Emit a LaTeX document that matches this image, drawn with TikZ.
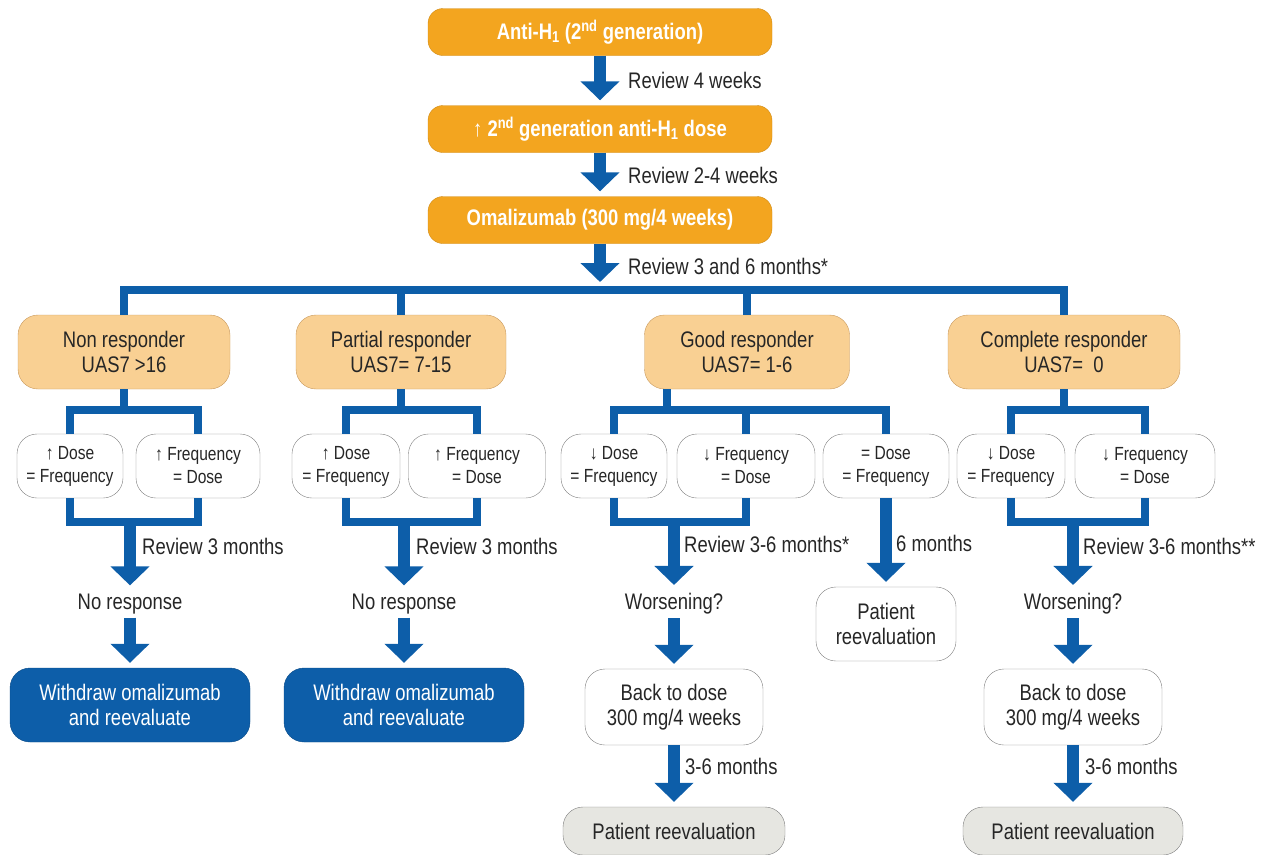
\documentclass[tikz,border=0pt]{standalone}
\usepackage{fontspec}
\setmainfont[FakeStretch=0.82]{Liberation Sans}
\usepackage{tikz}
\usetikzlibrary{calc, positioning, arrows.meta}
\definecolor{hblue}{HTML}{0D5EA9}
\definecolor{horange}{HTML}{F3A51F}
\definecolor{horangeline}{HTML}{D08A14}
\definecolor{hpeach}{HTML}{F9D093}
\definecolor{hpeachline}{HTML}{C99A5E}
\definecolor{hgrey}{HTML}{E6E6E1}

\begin{document}
\begin{tikzpicture}[x=1pt, y=-1pt, every node/.style={align=center, text=black!85, font=\fontsize{22.5}{25}\selectfont}]
\tikzstyle{top box}=[draw=horangeline, fill=horange, rounded corners=15pt, minimum width=344pt, minimum height=47pt, text=white, font=\bfseries\fontsize{22.5}{25}\selectfont]
\tikzstyle{resp box}=[draw=hpeachline, fill=hpeach, rounded corners=20pt, minimum height=74pt]
\tikzstyle{choice}=[draw=gray, fill=white, rounded corners=20pt, minimum height=64pt, inner sep=2pt, font=\fontsize{19}{23}\selectfont]
\tikzstyle{stop box}=[draw=hblue!80!black, fill=hblue, rounded corners=20pt, minimum width=240pt, minimum height=74pt, text=white]
\tikzstyle{back box}=[draw=gray, fill=white, rounded corners=20pt, minimum width=178pt, minimum height=76pt]
\tikzstyle{eval box}=[draw=gray, fill=hgrey, rounded corners=20pt, minimum height=48pt]
\tikzstyle{link}=[draw=hblue, line width=7.5pt]
\tikzstyle{flow}=[draw=hblue, line width=12pt, -{Triangle[width=38pt, length=19pt]}, shorten >=5pt]
\tikzstyle{note}=[anchor=west, inner sep=0pt]

\useasboundingbox (0,0) rectangle (1281,854);

\node[top box] (anti) at (600,32) {Anti-H\textsubscript{1} (2\textsuperscript{nd} generation)};
\node[top box] (updose) at (600,129) {↑ 2\textsuperscript{nd} generation anti-H\textsubscript{1} dose};
\node[top box] (omal) at (600,220) {Omalizumab (300 mg/4 weeks)};

\node[resp box, minimum width=212pt] (nonresp) at (124,352) {Non responder\\UAS7 >16};
\node[resp box, minimum width=210pt] (partial) at (401,352) {Partial responder\\UAS7= 7-15};
\node[resp box, minimum width=205pt] (goodresp) at (747,352) {Good responder\\UAS7= 1-6};
\node[resp box, minimum width=232pt] (complete) at (1064,352) {Complete responder\\UAS7=\ \ 0};

\node[choice, minimum width=106pt] (nrD) at (70,466) {\textbf{↑} Dose\\= Frequency};
\node[choice, minimum width=124pt] (nrF) at (198,466) {\textbf{↑} Frequency\\= Dose};
\node[choice, minimum width=108pt] (ptD) at (346,466) {\textbf{↑} Dose\\= Frequency};
\node[choice, minimum width=137pt] (ptF) at (477,466) {\textbf{↑} Frequency\\= Dose};
\node[choice, minimum width=106pt] (gdD) at (614,466) {\textbf{↓} Dose\\= Frequency};
\node[choice, minimum width=138pt] (gdF) at (746,466) {\textbf{↓} Frequency\\= Dose};
\node[choice, minimum width=126pt] (gdE) at (886,466) {= Dose\\= Frequency};
\node[choice, minimum width=108pt] (cpD) at (1011,466) {\textbf{↓} Dose\\= Frequency};
\node[choice, minimum width=140pt] (cpF) at (1145,466) {\textbf{↓} Frequency\\= Dose};

\coordinate (bus) at (600,290);
\coordinate (nrtop) at (124,410);
\coordinate (nrbot) at (130,522);
\coordinate (pttop) at (401,410);
\coordinate (ptbot) at (404,522);
\coordinate (gdtop) at (667,410);
\coordinate (gdbot) at (674,522);
\coordinate (cptop) at (1064,410);
\coordinate (cpbot) at (1073,522);

\node (nrno) at (130,604) {No response};
\node (ptno) at (404,604) {No response};
\node (gdworse) at (674,604) {Worsening?};
\node (cpworse) at (1073,604) {Worsening?};

\node[stop box] (nrstop) at (130,705) {Withdraw omalizumab\\and reevaluate};
\node[stop box] (ptstop) at (404,705) {Withdraw omalizumab\\and reevaluate};
\node[back box] (gdback) at (674,707) {Back to dose\\300 mg/4 weeks};
\node[back box] (cpback) at (1073,707) {Back to dose\\300 mg/4 weeks};
\node[back box, minimum width=140pt, minimum height=74pt] (gdcheck) at (886,624) {Patient\\reevaluation};
\node[eval box, minimum width=222pt] (gdeval) at (674,831) {Patient reevaluation};
\node[eval box, minimum width=220pt] (cpeval) at (1073,831) {Patient reevaluation};

\node[note] (rev1) at (628,80) {Review 4 weeks};
\node[note] (rev2) at (628,175) {Review 2-4 weeks};
\node[note] (rev3) at (628,266) {Review 3 and 6 months*};
\node[note] (nrrev) at (142,546) {Review 3 months};
\node[note] (ptrev) at (416,546) {Review 3 months};
\node[note] (gdrev) at (684,544) {Review 3-6 months*};
\node[note] (gdsix) at (896,543) {6 months};
\node[note] (cprev) at (1083,546) {Review 3-6 months**};
\node[note] (gdlater) at (685,766) {3-6 months};
\node[note] (cplater) at (1085,766) {3-6 months};

\draw[flow] (anti) -- (updose);
\draw[flow] (updose) -- (omal);
\draw[flow, shorten >=8pt] (omal.south) -- (omal.south |- bus);
\draw[link] (nonresp.north) |- (bus) -| (complete.north);
\draw[link] (partial.north) -- (partial.north |- bus);
\draw[link] (goodresp.north) -- (goodresp.north |- bus);

\draw[link] (nonresp.south) -- (nrtop);
\draw[link] (nrD.north) |- (nrtop) -| (nrF.north);
\draw[link] (nrD.south) |- (nrbot) -| (nrF.south);
\draw[flow] (nrbot) -- (nrno);
\draw[flow] (nrno) -- (nrstop);

\draw[link] (partial.south) -- (pttop);
\draw[link] (ptD.north) |- (pttop) -| (ptF.north);
\draw[link] (ptD.south) |- (ptbot) -| (ptF.south);
\draw[flow] (ptbot) -- (ptno);
\draw[flow] (ptno) -- (ptstop);

\draw[link] (goodresp.south -| gdtop) -- (gdtop);
\draw[link] (gdD.north) |- (gdtop) -| (gdE.north);
\draw[link] (gdF.north) -- (gdF.north |- gdtop);
\draw[link] (gdD.south) |- (gdbot) -| (gdF.south);
\draw[flow] (gdbot) -- (gdworse);
\draw[flow] (gdworse) -- (gdback);
\draw[flow] (gdback) -- (gdeval);
\draw[flow] (gdE) -- (gdcheck);

\draw[link] (complete.south) -- (cptop);
\draw[link] (cpD.north) |- (cptop) -| (cpF.north);
\draw[link] (cpD.south) |- (cpbot) -| (cpF.south);
\draw[flow] (cpbot) -- (cpworse);
\draw[flow] (cpworse) -- (cpback);
\draw[flow] (cpback) -- (cpeval);
\end{tikzpicture}
\end{document}
